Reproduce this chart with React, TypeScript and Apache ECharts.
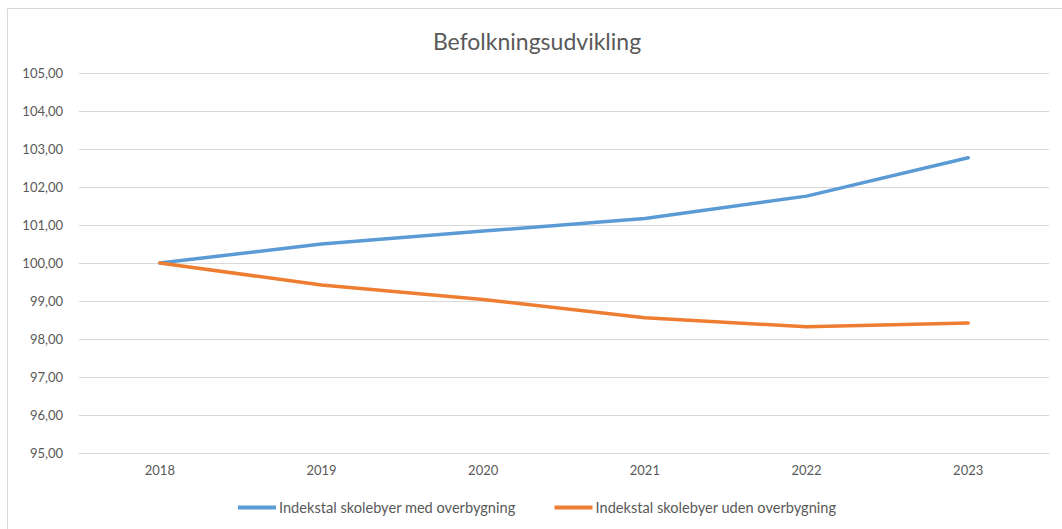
import React, { useEffect, useRef } from "react";
import * as echarts from "echarts";

const years = ["2018", "2019", "2020", "2021", "2022", "2023"];
const medOverbygning = [100.0, 100.5, 100.84, 101.17, 101.76, 102.77];
const udenOverbygning = [100.0, 99.42, 99.04, 98.56, 98.32, 98.42];
const seriesNames = ["Indekstal skolebyer med overbygning", "Indekstal skolebyer uden overbygning"];
const chartTitle = "Befolkningsudvikling";

const FONT = "Lato, 'Open Sans', sans-serif";
const TXT = "#595959";

export default function App() {
  const ref = useRef<HTMLDivElement>(null);
  useEffect(() => {
    if (!ref.current) return;
    const chart = echarts.init(ref.current, undefined, { renderer: "svg" });
    chart.setOption({
      animation: false,
      backgroundColor: "#ffffff",
      title: {
        text: chartTitle,
        left: 532,
        textAlign: "center",
        top: 24,
        textStyle: { fontFamily: FONT, fontSize: 23, fontWeight: "normal", color: TXT },
      },
      graphic: [
        {
          type: "rect",
          shape: { x: 7.5, y: 8.5, width: 1200, height: 700 },
          style: { fill: "none", stroke: "#d9d9d9", lineWidth: 1 },
          silent: true,
        },
      ],
      grid: { left: 79, right: 13, top: 73, bottom: 76, containLabel: false },
      legend: {
        bottom: 9,
        left: 233,
        itemWidth: 38,
        itemHeight: 4,
        itemGap: 39,
        icon: "rect",
        textStyle: { fontFamily: FONT, fontSize: 14.6, color: TXT, padding: [0, 0, 0, -2] },
        data: seriesNames,
      },
      xAxis: {
        type: "category",
        data: years,
        boundaryGap: true,
        axisLine: { show: true, lineStyle: { color: "#d9d9d9", width: 1 } },
        axisTick: { show: false },
        axisLabel: { fontFamily: FONT, fontSize: 13, color: TXT, margin: 10 },
      },
      yAxis: {
        type: "value",
        min: 95,
        max: 105,
        interval: 1,
        axisLine: { show: false },
        axisTick: { show: false },
        splitLine: { lineStyle: { color: "#d9d9d9", width: 1 } },
        axisLabel: {
          fontFamily: FONT,
          fontSize: 13,
          color: TXT,
          margin: 16,
          formatter: (v: number) => v.toFixed(2).replace(".", ","),
        },
      },
      series: [
        {
          name: seriesNames[0],
          type: "line",
          data: medOverbygning,
          symbol: "none",
          lineStyle: { color: "#5B9BD5", width: 3.5, cap: "round", join: "round" },
          itemStyle: { color: "#5B9BD5" },
        },
        {
          name: seriesNames[1],
          type: "line",
          data: udenOverbygning,
          symbol: "none",
          lineStyle: { color: "#ED7D31", width: 3.5, cap: "round", join: "round" },
          itemStyle: { color: "#ED7D31" },
        },
      ],
    });
    return () => chart.dispose();
  }, []);
  return (
    <div
      ref={ref}
      style={{ position: "fixed", left: 0, top: 0, width: 1062, height: 529 }}
    />
  );
}
